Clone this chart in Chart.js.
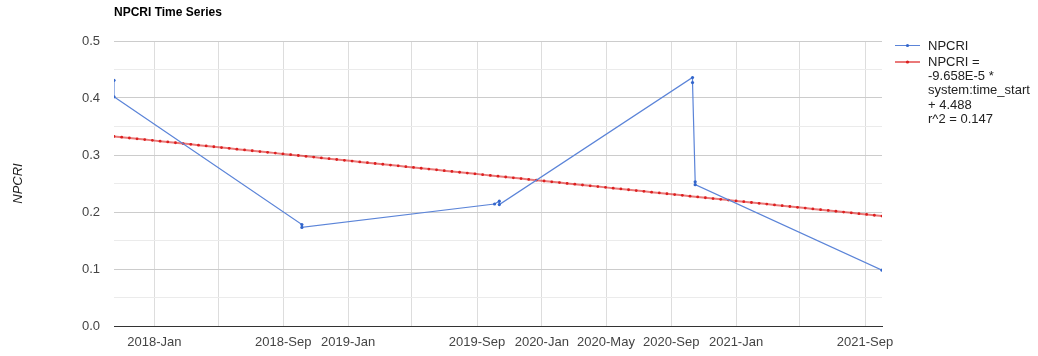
<!DOCTYPE html>
<html>
<head>
<meta charset="utf-8">
<title>NPCRI Time Series</title>
<script src="https://cdn.jsdelivr.net/npm/chart.js@4.4.0/dist/chart.umd.min.js"></script>
<style>
  html, body { margin: 0; padding: 0; background: #fff; }
</style>
</head>
<body>
<canvas id="npcriChart" width="1038" height="356"></canvas>
<script>
// acquisition dates and mean NPCRI for each image
const obsDates = [
    '2017-10-17', '2017-10-17',
    '2018-10-06', '2018-10-06',
    '2019-10-04', '2019-10-13', '2019-10-13',
    '2020-10-11', '2020-10-11', '2020-10-16', '2020-10-16',
    '2021-10-03'
];
const npcriValues = [
    0.431, 0.402,
    0.178, 0.173,
    0.214, 0.219, 0.213,
    0.436, 0.427, 0.253, 0.248,
    0.098
];

// linear fit against system:time_start (day serial), as given in the legend
const trendSlope = -9.658E-5;
const trendIntercept = 4.488;
const trendR2 = 0.147;
const trendSamples = 100;

// x axis: a gridline every four months, some labels left out
const xTickMonths = [
    '2018-01', '2018-05', '2018-09', '2019-01', '2019-05', '2019-09',
    '2020-01', '2020-05', '2020-09', '2021-01', '2021-05', '2021-09'
];
const xTickLabels = [
    '2018-Jan', '', '2018-Sep', '2019-Jan', '', '2019-Sep',
    '2020-Jan', '2020-May', '2020-Sep', '2021-Jan', '', '2021-Sep'
];

const yMin = 0;
const yMax = 0.5;
const yStep = 0.05;

const seriesName = 'NPCRI';
const chartTitle = 'NPCRI Time Series';

// date string -> spreadsheet style day serial (1899-12-30 = 0)
function toSerial(s) {
    const p = s.split('-').map(Number);
    return Date.UTC(p[0], p[1] - 1, p[2] || 1) / 86400000 + 25569;
}

const obsPoints = obsDates.map((d, i) => ({ x: toSerial(d), y: npcriValues[i] }));
const xMin = Math.min(...obsPoints.map(p => p.x));
const xMax = Math.max(...obsPoints.map(p => p.x));

const trendPoints = [];
for (let i = 0; i <= trendSamples; i++) {
    const x = xMin + (xMax - xMin) * i / trendSamples;
    trendPoints.push({ x: x, y: trendSlope * x + trendIntercept });
}

const trendLabel = [
    seriesName + ' =',
    trendSlope.toExponential(3).toUpperCase() + ' *',
    'system:time_start',
    '+ ' + trendIntercept,
    'r^2 = ' + trendR2
];

const FONT = '"Liberation Sans", Arial, sans-serif';
const BLUE = '#3366cc';
const BLUE_LINE = '#5b84d8';
const RED = '#dc1f1f';
const RED_LINE = 'rgba(220, 31, 31, 0.6)';

// title, rotated axis title and the legend on the right
const decorations = {
    id: 'decorations',
    afterDraw(chart) {
        const ctx = chart.ctx;
        const area = chart.chartArea;
        ctx.save();

        ctx.fillStyle = '#000';
        ctx.font = 'bold 12px ' + FONT;
        ctx.textAlign = 'left';
        ctx.textBaseline = 'alphabetic';
        ctx.fillText(chartTitle, area.left, 16);

        ctx.save();
        ctx.translate(22, (area.top + area.bottom) / 2);
        ctx.rotate(-Math.PI / 2);
        ctx.font = 'italic 13px ' + FONT;
        ctx.fillStyle = '#222';
        ctx.textAlign = 'center';
        ctx.fillText(seriesName, 0, 0);
        ctx.restore();

        const lx = 895, sw = 25, tx = 928;
        ctx.font = '13px ' + FONT;
        ctx.textBaseline = 'middle';
        ctx.textAlign = 'left';

        // observed series entry
        ctx.strokeStyle = BLUE_LINE;
        ctx.lineWidth = 1;
        ctx.beginPath();
        ctx.moveTo(lx, 45.5);
        ctx.lineTo(lx + sw, 45.5);
        ctx.stroke();
        ctx.fillStyle = BLUE;
        ctx.beginPath();
        ctx.arc(lx + sw / 2, 45.5, 1.6, 0, Math.PI * 2);
        ctx.fill();
        ctx.fillStyle = '#222';
        ctx.fillText(seriesName, tx, 46);

        // trend entry
        ctx.strokeStyle = RED_LINE;
        ctx.lineWidth = 2;
        ctx.beginPath();
        ctx.moveTo(lx, 62);
        ctx.lineTo(lx + sw, 62);
        ctx.stroke();
        ctx.fillStyle = RED;
        ctx.beginPath();
        ctx.arc(lx + sw / 2, 62, 1.6, 0, Math.PI * 2);
        ctx.fill();
        ctx.fillStyle = '#222';
        trendLabel.forEach((line, i) => ctx.fillText(line, tx, 62 + i * 14.4));

        ctx.restore();
    }
};

const ctx = document.getElementById('npcriChart').getContext('2d');
new Chart(ctx, {
    type: 'line',
    data: {
        datasets: [
            {
                label: seriesName,
                data: obsPoints,
                borderColor: BLUE_LINE,
                backgroundColor: BLUE,
                borderWidth: 1.2,
                pointRadius: 1.6,
                pointHoverRadius: 1.6,
                pointBorderWidth: 0,
                tension: 0,
                fill: false
            },
            {
                label: trendLabel.join(' '),
                data: trendPoints,
                borderColor: RED_LINE,
                backgroundColor: RED,
                borderWidth: 2,
                pointRadius: 1.4,
                pointHoverRadius: 1.4,
                pointBorderWidth: 0,
                tension: 0,
                fill: false
            }
        ]
    },
    options: {
        responsive: false,
        animation: false,
        layout: { padding: { top: 41, right: 156, left: 0, bottom: 0 } },
        plugins: {
            legend: { display: false },
            title: { display: false },
            tooltip: { enabled: false }
        },
        scales: {
            x: {
                type: 'linear',
                min: xMin,
                max: xMax,
                afterBuildTicks(scale) {
                    scale.ticks = xTickMonths.map(m => ({ value: toSerial(m) }));
                },
                afterFit(scale) { scale.height = 30; },
                ticks: {
                    autoSkip: false,
                    maxRotation: 0,
                    padding: 9,
                    color: '#444',
                    font: { family: FONT, size: 13 },
                    callback: (v, i) => xTickLabels[i]
                },
                grid: { color: '#dddddd', drawTicks: false },
                border: { display: true, color: '#333', width: 1 }
            },
            y: {
                min: yMin,
                max: yMax,
                afterFit(scale) { scale.width = 114; },
                ticks: {
                    stepSize: yStep,
                    padding: 14,
                    color: '#444',
                    font: { family: FONT, size: 13 },
                    callback: v => Math.abs(v * 10 - Math.round(v * 10)) < 1e-6 ? v.toFixed(1) : ''
                },
                grid: {
                    drawTicks: false,
                    color: c => {
                        const v = c.tick ? c.tick.value : 0;
                        if (Math.abs(v) < 1e-9) return '#333';
                        return Math.abs(v * 10 - Math.round(v * 10)) < 1e-6 ? '#cccccc' : '#ebebeb';
                    }
                },
                border: { display: false }
            }
        }
    },
    plugins: [decorations]
});
</script>
</body>
</html>
